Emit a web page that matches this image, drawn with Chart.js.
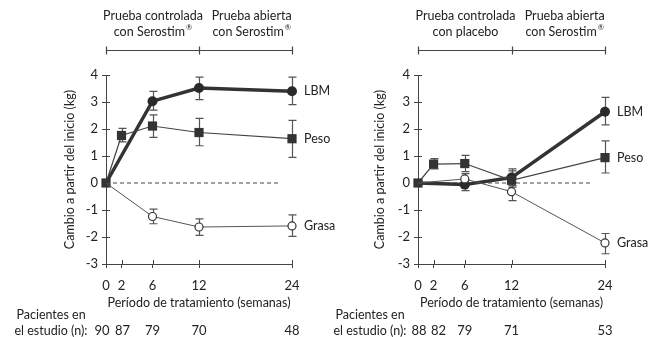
<!DOCTYPE html>
<html>
<head>
<meta charset="utf-8">
<script src="https://cdn.jsdelivr.net/npm/chart.js@4.4.1/dist/chart.umd.min.js"></script>
<style>
  html, body { margin: 0; padding: 0; background: #fff; }
  #wrap { position: relative; width: 652px; height: 337px; }
  canvas { position: absolute; top: 0; }
</style>
</head>
<body>
<div id="wrap">
  <canvas id="leftChart" width="345" height="337" style="left:0"></canvas>
  <canvas id="rightChart" width="326" height="337" style="left:326px"></canvas>
</div>
<script>
// ---- data ----
const weekTicks = [0, 2, 6, 12, 24];
const phaseWeeks = [0, 12, 24];
const baselineEnd = 22.2;
const seriesNames = ["LBM", "Peso", "Grasa"];

const lbmWeeks = [0, 6, 12, 24];
const pesoWeeks = [0, 2, 6, 12, 24];
const grasaWeeks = [0, 6, 12, 24];

// left panel: Serostim from the start
const leftPhases = [["Prueba controlada", "con Serostim®"], ["Prueba abierta", "con Serostim®"]];
const leftLbm = [0, 3.03, 3.52, 3.4];
const leftLbmLow = [null, 2.7, 3.09, 2.9];
const leftLbmHigh = [null, 3.39, 3.92, 3.92];
const leftPeso = [0, 1.76, 2.11, 1.87, 1.64];
const leftPesoLow = [null, 1.52, 1.69, 1.38, 0.95];
const leftPesoHigh = [null, 2.02, 2.52, 2.39, 2.32];
const leftGrasa = [0, -1.24, -1.63, -1.59];
const leftGrasaLow = [null, -1.51, -1.94, -1.98];
const leftGrasaHigh = [null, -0.97, -1.33, -1.18];
const leftPatients = [90, 87, 79, 70, 48];

// right panel: placebo first
const rightPhases = [["Prueba controlada", "con placebo"], ["Prueba abierta", "con Serostim®"]];
const rightLbm = [0, -0.06, 0.2, 2.64];
const rightLbmLow = [null, -0.28, -0.1, 2.15];
const rightLbmHigh = [null, 0.12, 0.52, 3.17];
const rightPeso = [0, 0.7, 0.72, 0.1, 0.94];
const rightPesoLow = [null, 0.52, 0.42, -0.15, 0.37];
const rightPesoHigh = [null, 0.9, 1.02, 0.45, 1.56];
const rightGrasa = [0, 0.15, -0.32, -2.22];
const rightGrasaLow = [null, -0.1, -0.65, -2.62];
const rightGrasaHigh = [null, 0.35, 0.02, -1.87];
const rightPatients = [88, 82, 79, 71, 53];

const FONT = "Lato, sans-serif";
const FS = 12.5;      // label text
const TS = 13;        // tick numbers
Chart.defaults.font.family = FONT;
Chart.defaults.font.size = FS;
Chart.defaults.color = "#222";

const toPoints = (xs, ys) => xs.map((x, i) => ({ x: x, y: ys[i] }));

// text with a small raised ® at the end
function drawTextCentered(ctx, text, cx, y) {
  let main = text, mark = "";
  if (text.endsWith("®")) { main = text.slice(0, -1); mark = "®"; }
  ctx.font = FS + "px " + FONT;
  const w1 = ctx.measureText(main).width;
  ctx.font = "7.5px " + FONT;
  const w2 = mark ? ctx.measureText(mark).width + 1 : 0;
  const start = cx - (w1 + w2) / 2;
  ctx.textAlign = "left";
  ctx.textBaseline = "middle";
  ctx.font = FS + "px " + FONT;
  ctx.fillText(main, start, y);
  if (mark) {
    ctx.font = "7.5px " + FONT;
    ctx.fillText(mark, start + w1 + 1, y - 4);
  }
  return w1 + w2;
}

function textWidth(ctx, text) {
  ctx.font = FS + "px " + FONT;
  return ctx.measureText(text).width;
}

function makePanel(p) {
  const errorSeries = [
    { weeks: lbmWeeks, low: p.lbmLow, high: p.lbmHigh },
    { weeks: pesoWeeks, low: p.pesoLow, high: p.pesoHigh },
    { weeks: grasaWeeks, low: p.grasaLow, high: p.grasaHigh }
  ];
  const lastValues = [p.lbm[p.lbm.length - 1], p.peso[p.peso.length - 1], p.grasa[p.grasa.length - 1]];
  const canvas = document.getElementById(p.canvas);

  const extras = {
    id: "extras",
    beforeDatasetsDraw(chart) {
      const ctx = chart.ctx, xs = chart.scales.x, ys = chart.scales.y;
      ctx.save();
      ctx.strokeStyle = "#555";
      ctx.lineWidth = 1.2;
      errorSeries.forEach(s => {
        s.weeks.forEach((w, i) => {
          if (s.low[i] == null) return;
          const px = Math.round(xs.getPixelForValue(w)) + 0.5;
          const yl = ys.getPixelForValue(s.low[i]);
          const yh = ys.getPixelForValue(s.high[i]);
          ctx.beginPath();
          ctx.moveTo(px, yl); ctx.lineTo(px, yh);
          ctx.moveTo(px - 4, yl); ctx.lineTo(px + 4, yl);
          ctx.moveTo(px - 4, yh); ctx.lineTo(px + 4, yh);
          ctx.stroke();
        });
      });
      ctx.restore();
    },
    afterDraw(chart) {
      const ctx = chart.ctx, xs = chart.scales.x, ys = chart.scales.y;
      const area = chart.chartArea;
      ctx.save();
      ctx.fillStyle = "#222";
      ctx.strokeStyle = "#444";
      ctx.lineWidth = 1;

      // inner halves of the axis ticks
      ctx.beginPath();
      weekTicks.forEach(w => {
        const px = Math.round(xs.getPixelForValue(w)) + 0.5;
        ctx.moveTo(px, area.bottom); ctx.lineTo(px, area.bottom - 4);
      });
      for (let v = -3; v <= 4; v++) {
        const py = Math.round(ys.getPixelForValue(v)) + 0.5;
        ctx.moveTo(area.left, py); ctx.lineTo(area.left + 4, py);
      }
      ctx.stroke();

      // phase bracket on top
      const by = 50.5;
      const bx = phaseWeeks.map(w => Math.round(xs.getPixelForValue(w)) + 0.5);
      ctx.lineWidth = 1.2;
      ctx.beginPath();
      ctx.moveTo(bx[0], by); ctx.lineTo(bx[bx.length - 1], by);
      bx.forEach(x => { ctx.moveTo(x, by - 4); ctx.lineTo(x, by + 4); });
      ctx.stroke();

      p.phases.forEach((lines, i) => {
        let cx = (bx[i] + bx[i + 1]) / 2;
        if (i === p.phases.length - 1) {
          const w = Math.max(...lines.map(t => textWidth(ctx, t)));
          cx = bx[i + 1] - w / 2;
        }
        lines.forEach((t, j) => drawTextCentered(ctx, t, cx, 16 + j * 16));
      });

      // series labels at the right end
      ctx.font = FS + "px " + FONT;
      ctx.textAlign = "left";
      ctx.textBaseline = "middle";
      seriesNames.forEach((name, i) => {
        ctx.fillText(name, xs.getPixelForValue(24) + 12, ys.getPixelForValue(lastValues[i]));
      });

      // patients row
      ctx.textAlign = "center";
      ctx.fillText("Pacientes en", p.patientLabelX, 315);
      ctx.fillText("el estudio (n):", p.patientLabelX, 331);
      ctx.font = TS + "px " + FONT;
      p.patients.forEach((n, i) => {
        ctx.fillText(String(n), xs.getPixelForValue(weekTicks[i]) + p.patientNudge[i], 331);
      });
      ctx.restore();
    }
  };

  return new Chart(canvas, {
    type: "line",
    data: {
      datasets: [
        {
          label: "Grasa",
          data: toPoints(grasaWeeks, p.grasa),
          borderColor: "#555",
          borderWidth: 1,
          pointStyle: "circle",
          pointRadius: c => (c.raw && c.raw.x === 0 ? 0 : 4),
          pointBackgroundColor: "#fff",
          pointBorderColor: "#333",
          pointBorderWidth: 1.2,
          clip: false,
          order: 0
        },
        {
          label: "Peso",
          data: toPoints(pesoWeeks, p.peso),
          borderColor: "#444",
          borderWidth: 1.2,
          pointStyle: "rect",
          pointRadius: 6.5,
          pointBackgroundColor: "#333",
          pointBorderColor: "#333",
          pointBorderWidth: 0,
          clip: false,
          order: 1
        },
        {
          label: "LBM",
          data: toPoints(lbmWeeks, p.lbm),
          borderColor: "#333",
          borderWidth: 3.5,
          pointStyle: "circle",
          pointRadius: c => (c.raw && c.raw.x === 0 ? 0 : 5),
          pointBackgroundColor: "#2a2a2a",
          pointBorderColor: "#2a2a2a",
          pointBorderWidth: 0,
          clip: false,
          order: 2
        },
        {
          label: "base",
          data: [{ x: 0, y: 0 }, { x: baselineEnd, y: 0 }],
          borderColor: "#444",
          borderWidth: 1,
          borderDash: [4, 3],
          pointRadius: 0,
          order: 3
        }
      ]
    },
    options: {
      responsive: false,
      animation: false,
      devicePixelRatio: 1,
      layout: { padding: { left: 0, top: 75, right: canvas.width - p.axisRight, bottom: 27 } },
      plugins: { legend: { display: false }, tooltip: { enabled: false } },
      elements: { line: { tension: 0 } },
      scales: {
        x: {
          type: "linear",
          min: 0,
          max: 24,
          afterBuildTicks: s => { s.ticks = weekTicks.map(v => ({ value: v })); },
          afterFit: s => { s.height = 46; },
          grid: { drawOnChartArea: false, tickLength: 4, color: "#444" },
          border: { color: "#444", width: 1 },
          ticks: { padding: 10, maxRotation: 0, autoSkip: false, color: "#222", font: { size: TS } },
          title: {
            display: true,
            text: "Período de tratamiento (semanas)",
            padding: { top: 0, bottom: 0 },
            color: "#222",
            font: { size: FS }
          }
        },
        y: {
          min: -3,
          max: 4,
          afterFit: s => { s.width = p.axisLeft; },
          grid: { drawOnChartArea: false, tickLength: 4, color: "#444" },
          border: { color: "#444", width: 1 },
          ticks: { stepSize: 1, padding: 4, color: "#222", font: { size: TS } },
          title: {
            display: true,
            text: "Cambio a partir del inicio (kg)",
            padding: { top: p.yTitleX - 7.5, bottom: 0 },
            color: "#222",
            font: { size: FS }
          }
        }
      }
    },
    plugins: [extras]
  });
}

makePanel({
  canvas: "leftChart",
  axisLeft: 106, axisRight: 292, yTitleX: 70, patientLabelX: 51,
  patientNudge: [-4, 1, 0, 0, 0],
  phases: leftPhases, patients: leftPatients,
  lbm: leftLbm, lbmLow: leftLbmLow, lbmHigh: leftLbmHigh,
  peso: leftPeso, pesoLow: leftPesoLow, pesoHigh: leftPesoHigh,
  grasa: leftGrasa, grasaLow: leftGrasaLow, grasaHigh: leftGrasaHigh
});

makePanel({
  canvas: "rightChart",
  axisLeft: 92, axisRight: 279, yTitleX: 54, patientLabelX: 44,
  patientNudge: [1, 5, 0, 0, 0],
  phases: rightPhases, patients: rightPatients,
  lbm: rightLbm, lbmLow: rightLbmLow, lbmHigh: rightLbmHigh,
  peso: rightPeso, pesoLow: rightPesoLow, pesoHigh: rightPesoHigh,
  grasa: rightGrasa, grasaLow: rightGrasaLow, grasaHigh: rightGrasaHigh
});
</script>
</body>
</html>
